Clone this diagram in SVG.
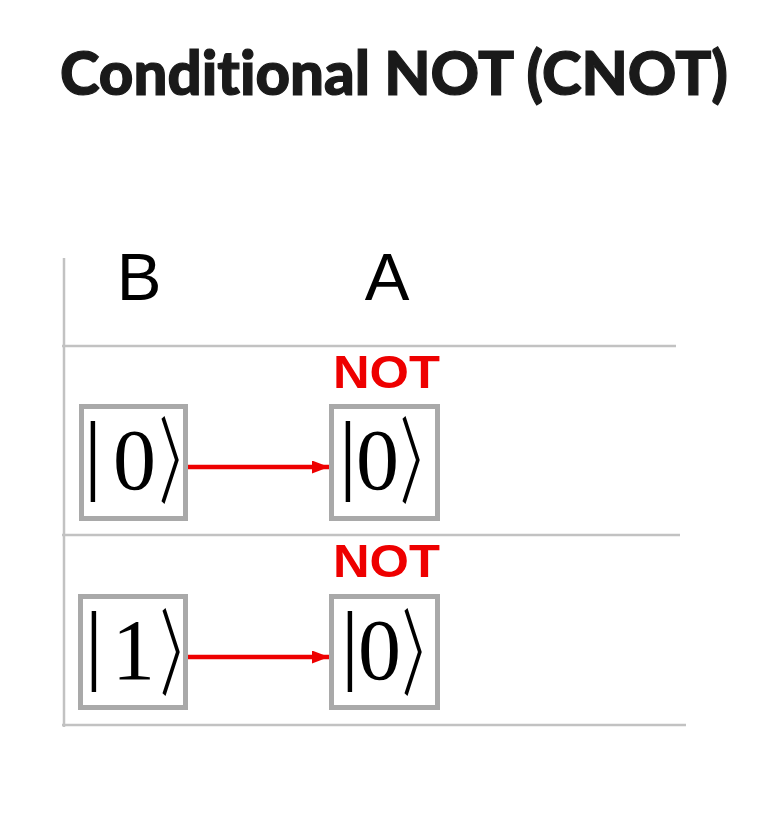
<svg xmlns="http://www.w3.org/2000/svg" width="759" height="834" viewBox="0 0 759 834">
<style>
.title{font-family:Lato,"Open Sans","Liberation Sans",sans-serif;font-weight:900;font-size:60px;fill:#1a1a1a;stroke:#1a1a1a;stroke-width:1.2;font-variant-ligatures:none}
.hdr{font-family:"Liberation Sans",Arial,sans-serif;font-size:67px;fill:#000}
.not{font-family:"Liberation Sans",Arial,sans-serif;font-weight:bold;font-size:46px;fill:#ee0000}
.grid{stroke:#c2c2c2;stroke-width:2.5;fill:none}
.box{fill:#fff;stroke:#a9a9a9;stroke-width:5}
.ket{font-family:"Liberation Serif","DejaVu Serif",serif;font-size:86px;fill:#000}
.bar{font-family:"Liberation Serif","DejaVu Serif",serif;font-size:89px;fill:#000}
.br{font-family:"Noto Sans CJK JP","DejaVu Serif",sans-serif;font-size:80px;fill:#000}
.arr{stroke:#ee0000;stroke-width:4.5;fill:none}
</style>
<defs>
<marker id="ah" markerWidth="17" markerHeight="13" refX="17" refY="6.5" orient="auto" markerUnits="userSpaceOnUse">
<path d="M0,0 L17,6.5 L0,13 Z" fill="#ee0000"/>
</marker>
</defs>
<rect width="759" height="834" fill="#fff"/>
<text class="title" x="60" y="95" textLength="668" lengthAdjust="spacingAndGlyphs">Conditional NOT (CNOT)</text>
<g id="grid">
<line class="grid" x1="64" y1="258" x2="64" y2="727"/>
<line class="grid" x1="62" y1="346" x2="676" y2="346"/>
<line class="grid" x1="62" y1="535" x2="680" y2="535"/>
<line class="grid" x1="62" y1="725" x2="686" y2="725"/>
</g>
<g id="hdrB"><text class="hdr" x="139" y="300" text-anchor="middle">B</text></g>
<g id="hdrA"><text class="hdr" x="387" y="300" text-anchor="middle">A</text></g>
<g id="not1"><text class="not" x="333" y="388" textLength="107" lengthAdjust="spacingAndGlyphs">NOT</text></g>
<g id="not2"><text class="not" x="333" y="577" textLength="107" lengthAdjust="spacingAndGlyphs">NOT</text></g>
<g id="connectors">
<line class="arr" x1="188" y1="467" x2="329" y2="467" marker-end="url(#ah)"/>
<line class="arr" x1="188" y1="657" x2="329" y2="657" marker-end="url(#ah)"/>
</g>
<g id="b1">
<rect class="box" x="81.5" y="406.5" width="104" height="112"/>
<text class="bar" x="84" y="483">|</text>
<text class="ket" x="113" y="489">0</text>
<text class="br" transform="translate(159,496) scale(0.6,1.18)">〉</text>
</g>
<g id="a1">
<rect class="box" x="331.5" y="406.5" width="106" height="112"/>
<text class="bar" x="339" y="483">|</text>
<text class="ket" x="356" y="489">0</text>
<text class="br" transform="translate(400,496) scale(0.6,1.18)">〉</text>
</g>
<g id="b2">
<rect class="box" x="80.5" y="596.5" width="105" height="111"/>
<text class="bar" x="85" y="673">|</text>
<text class="ket" x="112" y="679">1</text>
<text class="br" transform="translate(160,688) scale(0.6,1.18)">〉</text>
</g>
<g id="a2">
<rect class="box" x="331.5" y="596.5" width="106" height="111"/>
<text class="bar" x="341" y="673">|</text>
<text class="ket" x="358" y="679">0</text>
<text class="br" transform="translate(402,688) scale(0.6,1.18)">〉</text>
</g>
</svg>
